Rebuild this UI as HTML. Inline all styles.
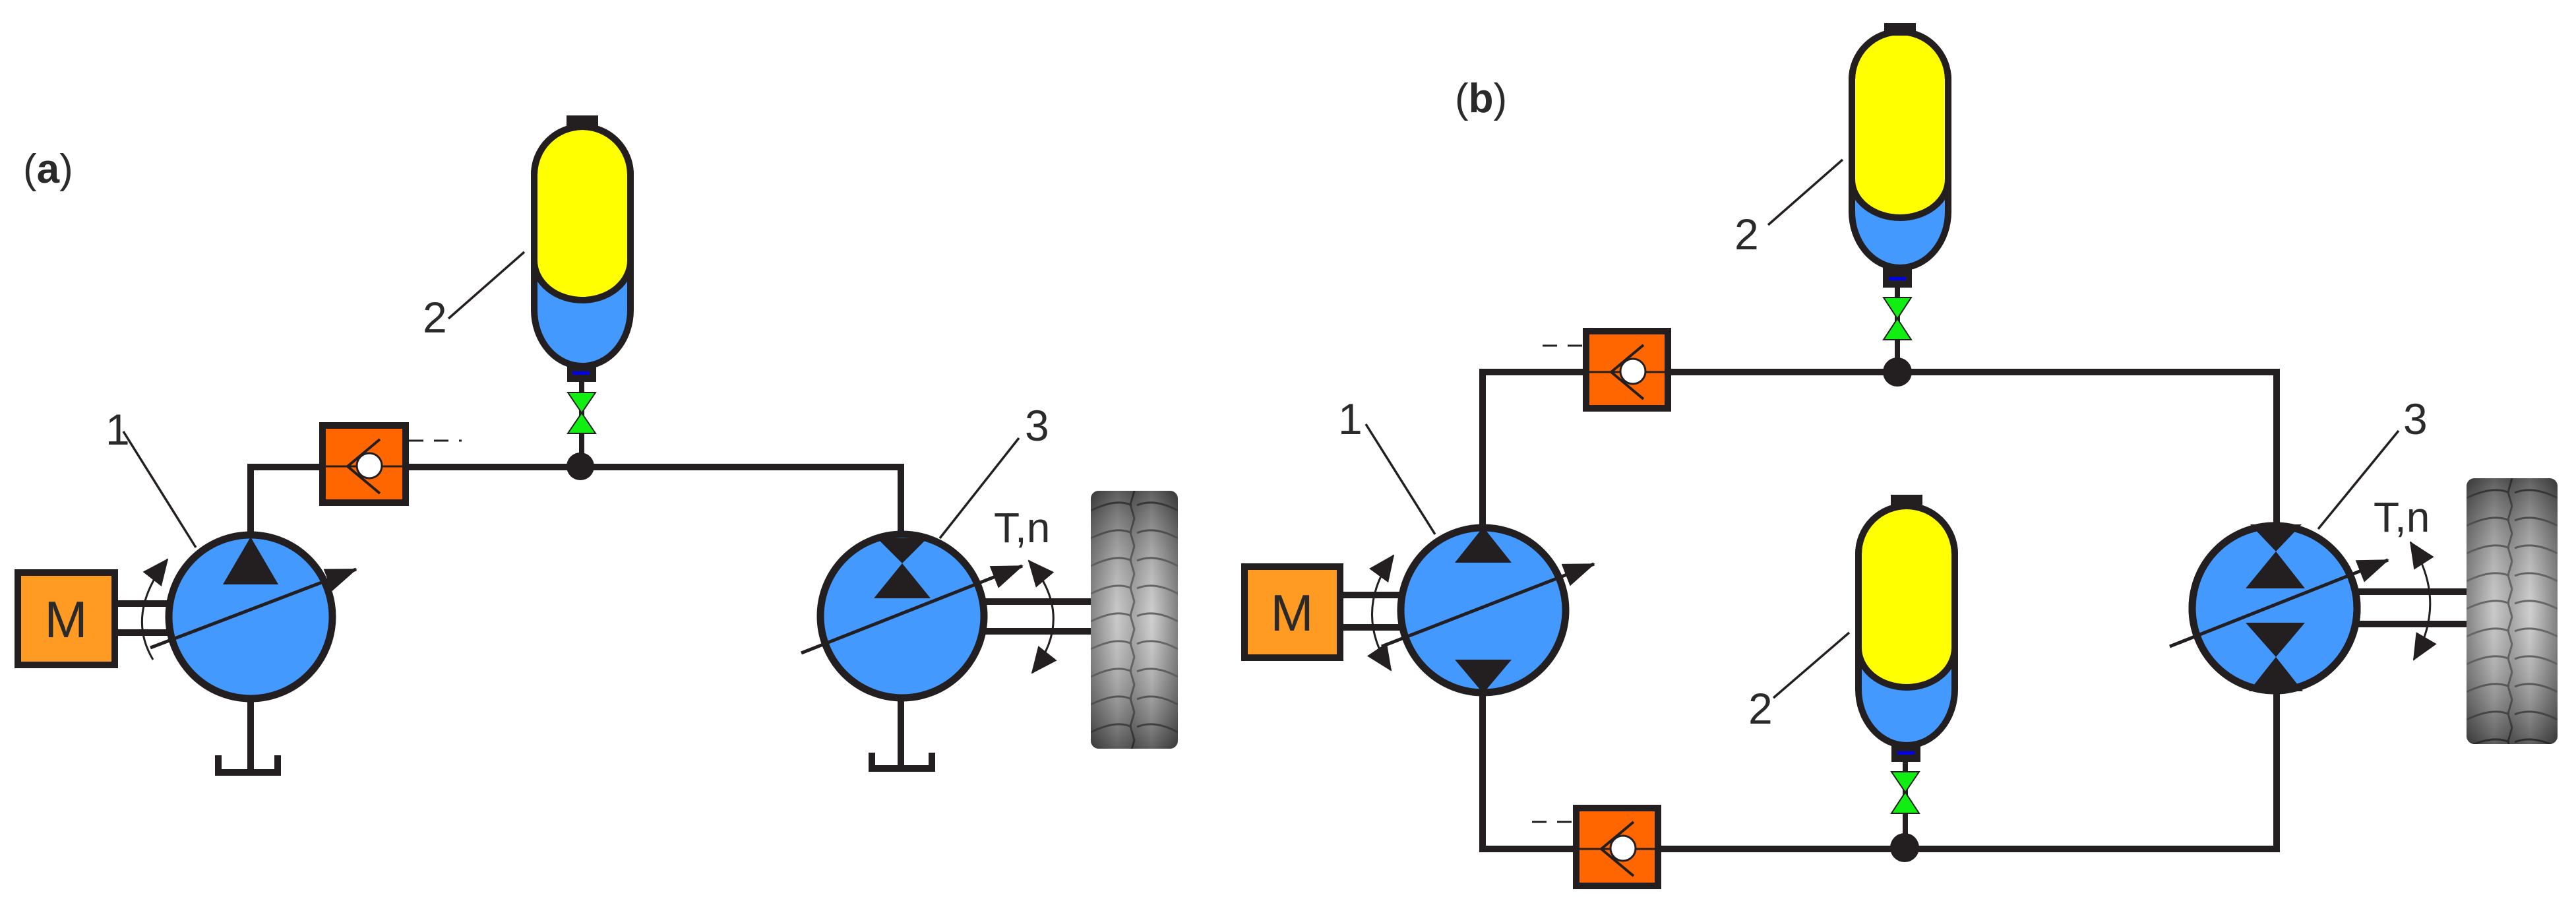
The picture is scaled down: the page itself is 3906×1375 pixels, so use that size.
<!DOCTYPE html>
<html><head><meta charset="utf-8"><style>
html,body{margin:0;padding:0;background:#fff;}
svg{display:block;}
text{font-family:"Liberation Sans",sans-serif;fill:#2a2a2a;}
</style></head><body>
<svg width="3906" height="1375" viewBox="0 0 3906 1375" xmlns="http://www.w3.org/2000/svg">
<defs>
 <marker id="ah" markerUnits="userSpaceOnUse" markerWidth="50" markerHeight="40" refX="46" refY="18" orient="auto"><path d="M0,0 L48,18 L0,36 Z" fill="#231f20"/></marker>
 <marker id="rh" markerUnits="userSpaceOnUse" markerWidth="44" markerHeight="40" refX="38" refY="18" orient="auto-start-reverse"><path d="M0,0 L40,18 L0,36 Z" fill="#231f20"/></marker>
 <linearGradient id="tg" x1="0" x2="1" y1="0" y2="0">
  <stop offset="0" stop-color="#5a5a5a"/><stop offset="0.3" stop-color="#b8b8b8"/><stop offset="0.5" stop-color="#8a8a8a"/><stop offset="0.7" stop-color="#c0c0c0"/><stop offset="1" stop-color="#555"/>
 </linearGradient>
 <linearGradient id="tv" x1="0" x2="0" y1="0" y2="1">
  <stop offset="0" stop-color="#222" stop-opacity="0.6"/><stop offset="0.5" stop-color="#fff" stop-opacity="0.25"/><stop offset="1" stop-color="#222" stop-opacity="0.6"/>
 </linearGradient>
 <pattern id="tpA" patternUnits="userSpaceOnUse" x="1654" y="744" width="132" height="42">
  <path d="M0,30 C25,18 45,14 62,22 M70,22 C88,14 110,18 132,30 M66,0 L60,21 L66,42" fill="none" stroke="#333" stroke-width="3"/>
 </pattern>
 <pattern id="tpB" patternUnits="userSpaceOnUse" x="3740" y="725" width="138" height="42">
  <path d="M0,30 C25,18 47,14 65,22 M73,22 C92,14 115,18 138,30 M69,0 L63,21 L69,42" fill="none" stroke="#333" stroke-width="3"/>
 </pattern>
</defs>

<g stroke="#231f20" fill="none" stroke-linecap="butt">
<path d="M380,808 V708 H484" stroke-width="10"/>
<path d="M620,708 H1366 V812" stroke-width="10"/>
<path d="M380,1060 V1171 M331,1145 V1171 H421 V1145" stroke-width="10"/>
<path d="M1366,1058 V1165 M1322,1141 V1165 H1413 V1141" stroke-width="10"/>
<path d="M179,915 H262 M179,959 H262" stroke-width="10"/>
<path d="M1490,912 H1654 M1490,957 H1654" stroke-width="10"/>
</g>

<rect x="27" y="868" width="147" height="140" fill="#ff9a22" stroke="#231f20" stroke-width="10"/>
<text x="100" y="966" font-size="78" text-anchor="middle">M</text>

<circle cx="380" cy="935" r="124" fill="#4499ff" stroke="#231f20" stroke-width="11"/>
<path d="M380,814 L422,886 L338,886 Z" fill="#231f20"/>
<line x1="228" y1="982" x2="540" y2="863" stroke="#231f20" stroke-width="5" marker-end="url(#ah)"/>
<path d="M254,848 Q190,930 232,1000" fill="none" stroke="#231f20" stroke-width="3" marker-start="url(#rh)"/>

<circle cx="1368" cy="934" r="124" fill="#4499ff" stroke="#231f20" stroke-width="11"/>
<path d="M1330,816 L1406,816 L1368,854 Z" fill="#231f20"/>
<path d="M1368,854 L1411,907 L1325,907 Z" fill="#231f20"/>
<line x1="1215" y1="990" x2="1550" y2="858" stroke="#231f20" stroke-width="5" marker-end="url(#ah)"/>
<path d="M1560,850 Q1632,935 1565,1020" fill="none" stroke="#231f20" stroke-width="3" marker-start="url(#rh)" marker-end="url(#rh)"/>

<rect x="1654" y="744" width="132" height="391" rx="12" fill="url(#tg)"/>
<rect x="1654" y="744" width="132" height="391" rx="12" fill="url(#tpA)"/>
<rect x="1654" y="744" width="132" height="391" rx="12" fill="url(#tv)"/>

<g transform="translate(484,640)">
 <rect x="5" y="5" width="126" height="117" fill="#ff6600" stroke="#231f20" stroke-width="10"/>
 <line x1="5" y1="67" x2="131" y2="67" stroke="#231f20" stroke-width="3"/>
 <path d="M92,26 L43,67 L92,108" fill="none" stroke="#231f20" stroke-width="4"/>
 <circle cx="76" cy="66" r="19" fill="#fff" stroke="#231f20" stroke-width="3"/>
</g>
<line x1="620" y1="668" x2="700" y2="668" stroke="#231f20" stroke-width="3" stroke-dasharray="22,16"/>

<line x1="882" y1="579" x2="882" y2="705" stroke="#231f20" stroke-width="8"/>
<path d="M810,265 A73,73 0 0 1 956,265 V470 A73,85 0 0 1 810,470 Z" fill="#4499ff"/>
<path d="M810,265 A73,73 0 0 1 956,265 V395 A73,60 0 0 1 810,395 Z" fill="#ffff00" stroke="#231f20" stroke-width="10"/>
<path d="M810,265 A73,73 0 0 1 956,265 V470 A73,85 0 0 1 810,470 Z" fill="none" stroke="#231f20" stroke-width="10"/>
<rect x="859" y="175" width="48" height="20" fill="#231f20"/>
<rect x="860" y="552" width="44" height="27" fill="#231f20"/>
<rect x="868" y="563" width="26" height="5" fill="#0000ee"/>
<path d="M861,595 L903,595 L882,626 Z M882,626 L903,657 L861,657 Z" fill="#11ee11" stroke="#231f20" stroke-width="2"/>
<circle cx="880" cy="707" r="21" fill="#231f20"/>

<text x="35" y="277" font-size="62">(<tspan font-weight="bold">a</tspan>)</text>
<text x="160" y="674" font-size="66">1</text>
<line x1="187" y1="654" x2="297" y2="830" stroke="#231f20" stroke-width="3.5"/>
<text x="641" y="504" font-size="66">2</text>
<line x1="680" y1="483" x2="795" y2="382" stroke="#231f20" stroke-width="3.5"/>
<text x="1554" y="668" font-size="66">3</text>
<line x1="1545" y1="664" x2="1425" y2="816" stroke="#231f20" stroke-width="3.5"/>
<text x="1507" y="822" font-size="64">T,n</text>

<g stroke="#231f20" fill="none" stroke-width="10">
<path d="M2248,800 V564 H2400"/>
<path d="M2534,564 H3452 V1287 H2519"/>
<path d="M2385,1287 H2248 V1050"/>
<path d="M2037,902 H2130 M2037,951 H2130"/>
<path d="M3575,897 H3740 M3575,946 H3740"/>
</g>

<rect x="1887" y="859" width="145" height="138" fill="#ff9a22" stroke="#231f20" stroke-width="10"/>
<text x="1959" y="956" font-size="78" text-anchor="middle">M</text>

<circle cx="2249" cy="925" r="125" fill="#4499ff" stroke="#231f20" stroke-width="11"/>
<path d="M2249,799 L2292,853 L2206,853 Z" fill="#231f20"/>
<path d="M2206,1000 L2292,1000 L2249,1051 Z" fill="#231f20"/>
<line x1="2095" y1="980" x2="2417" y2="855" stroke="#231f20" stroke-width="5" marker-end="url(#ah)"/>
<path d="M2113,842 Q2050,928 2109,1016" fill="none" stroke="#231f20" stroke-width="3" marker-start="url(#rh)" marker-end="url(#rh)"/>

<circle cx="3449" cy="922" r="125" fill="#4499ff" stroke="#231f20" stroke-width="11"/>
<path d="M3412,795 L3490,795 L3451,836 Z" fill="#231f20"/>
<path d="M3451,836 L3495,892 L3405,892 Z" fill="#231f20"/>
<path d="M3405,944 L3495,944 L3451,996 Z" fill="#231f20"/>
<path d="M3451,996 L3492,1048 L3410,1048 Z" fill="#231f20"/>
<circle cx="3449" cy="922" r="125" fill="none" stroke="#231f20" stroke-width="11"/>
<line x1="3290" y1="980" x2="3621" y2="849" stroke="#231f20" stroke-width="5" marker-end="url(#ah)"/>
<path d="M3655,822 Q3712,911 3660,1000" fill="none" stroke="#231f20" stroke-width="3" marker-start="url(#rh)" marker-end="url(#rh)"/>

<rect x="3740" y="725" width="138" height="403" rx="12" fill="url(#tg)"/>
<rect x="3740" y="725" width="138" height="403" rx="12" fill="url(#tpB)"/>
<rect x="3740" y="725" width="138" height="403" rx="12" fill="url(#tv)"/>

<g transform="translate(2400,497)">
 <rect x="5" y="5" width="124" height="117" fill="#ff6600" stroke="#231f20" stroke-width="10"/>
 <line x1="5" y1="67" x2="129" y2="67" stroke="#231f20" stroke-width="3"/>
 <path d="M92,26 L43,67 L92,108" fill="none" stroke="#231f20" stroke-width="4"/>
 <circle cx="76" cy="66" r="19" fill="#fff" stroke="#231f20" stroke-width="3"/>
</g>
<line x1="2339" y1="524" x2="2400" y2="524" stroke="#231f20" stroke-width="3" stroke-dasharray="22,16"/>
<g transform="translate(2385,1220)">
 <rect x="5" y="5" width="124" height="118" fill="#ff6600" stroke="#231f20" stroke-width="10"/>
 <line x1="5" y1="67" x2="129" y2="67" stroke="#231f20" stroke-width="3"/>
 <path d="M92,26 L43,67 L92,108" fill="none" stroke="#231f20" stroke-width="4"/>
 <circle cx="76" cy="66" r="19" fill="#fff" stroke="#231f20" stroke-width="3"/>
</g>
<line x1="2323" y1="1246" x2="2385" y2="1246" stroke="#231f20" stroke-width="3" stroke-dasharray="22,16"/>

<line x1="2877" y1="436" x2="2877" y2="562" stroke="#231f20" stroke-width="8"/>
<path d="M2808,121 A73,73 0 0 1 2954,121 V321 A73,85 0 0 1 2808,321 Z" fill="#4499ff"/>
<path d="M2808,121 A73,73 0 0 1 2954,121 V272 A73,58 0 0 1 2808,272 Z" fill="#ffff00" stroke="#231f20" stroke-width="10"/>
<path d="M2808,121 A73,73 0 0 1 2954,121 V321 A73,85 0 0 1 2808,321 Z" fill="none" stroke="#231f20" stroke-width="10"/>
<rect x="2857" y="35" width="48" height="19" fill="#231f20"/>
<rect x="2855" y="403" width="44" height="33" fill="#231f20"/>
<rect x="2864" y="420" width="26" height="5" fill="#0000ee"/>
<path d="M2856,451 L2898,451 L2877,483 Z M2877,483 L2898,515 L2856,515 Z" fill="#11ee11" stroke="#231f20" stroke-width="2"/>
<circle cx="2877" cy="564" r="22" fill="#231f20"/>

<line x1="2889" y1="1155" x2="2889" y2="1283" stroke="#231f20" stroke-width="8"/>
<path d="M2818,840 A73,73 0 0 1 2964,840 V1045 A73,85 0 0 1 2818,1045 Z" fill="#4499ff"/>
<path d="M2818,840 A73,73 0 0 1 2964,840 V982 A73,60 0 0 1 2818,982 Z" fill="#ffff00" stroke="#231f20" stroke-width="10"/>
<path d="M2818,840 A73,73 0 0 1 2964,840 V1045 A73,85 0 0 1 2818,1045 Z" fill="none" stroke="#231f20" stroke-width="10"/>
<rect x="2867" y="750" width="48" height="19" fill="#231f20"/>
<rect x="2868" y="1127" width="44" height="28" fill="#231f20"/>
<rect x="2877" y="1139" width="26" height="5" fill="#0000ee"/>
<path d="M2868,1170 L2910,1170 L2889,1201 Z M2889,1201 L2910,1233 L2868,1233 Z" fill="#11ee11" stroke="#231f20" stroke-width="2"/>
<circle cx="2888" cy="1285" r="22" fill="#231f20"/>

<text x="2206" y="170" font-size="62">(<tspan font-weight="bold">b</tspan>)</text>
<text x="2029" y="658" font-size="66">1</text>
<line x1="2071" y1="643" x2="2176" y2="810" stroke="#231f20" stroke-width="3.5"/>
<text x="2630" y="378" font-size="66">2</text>
<line x1="2681" y1="341" x2="2794" y2="242" stroke="#231f20" stroke-width="3.5"/>
<text x="2651" y="1097" font-size="66">2</text>
<line x1="2689" y1="1058" x2="2804" y2="959" stroke="#231f20" stroke-width="3.5"/>
<text x="3644" y="658" font-size="66">3</text>
<line x1="3637" y1="653" x2="3515" y2="802" stroke="#231f20" stroke-width="3.5"/>
<text x="3599" y="806" font-size="64">T,n</text>
</svg>
</body></html>
